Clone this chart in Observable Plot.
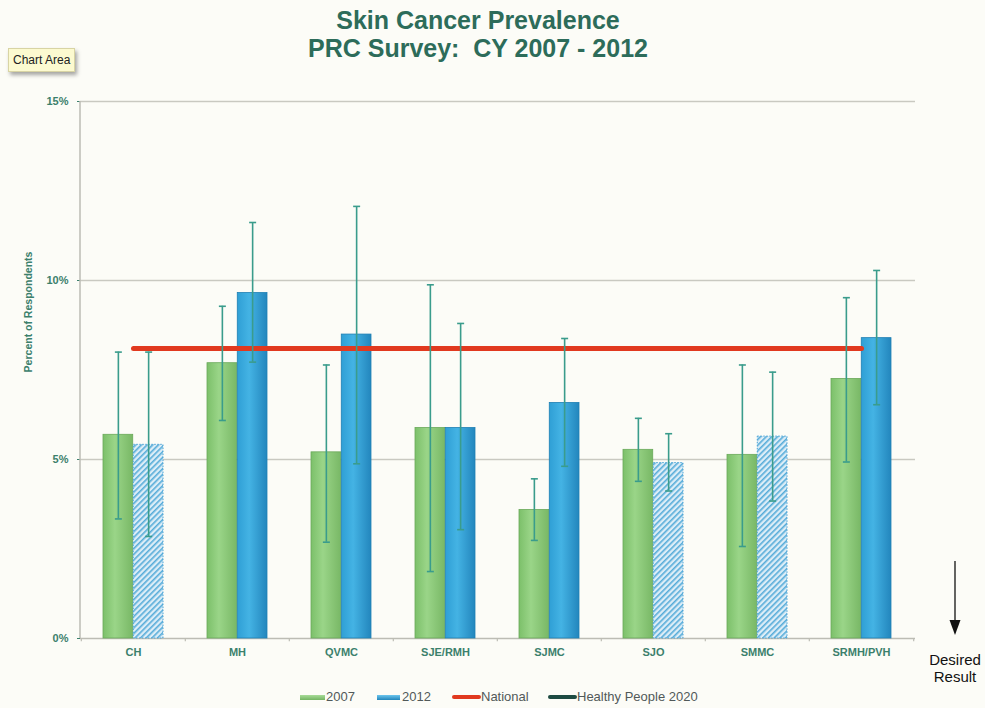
<!DOCTYPE html>
<html>
<head>
<meta charset="utf-8">
<script src="https://cdn.jsdelivr.net/npm/d3@7"></script>
<script src="https://cdn.jsdelivr.net/npm/@observablehq/plot@0.6"></script>
<style>
  body { margin: 0; background: #fcfcf7; font-family: "Liberation Sans", Arial, sans-serif; }
  #wrap { position: relative; width: 985px; height: 708px; overflow: hidden; }
  #title { height: 76px; box-sizing: border-box; padding-top: 6px; padding-right: 29px; text-align: center;
           font-weight: bold; font-size: 25px; line-height: 28px; color: #2d6c5a; }
  #chart svg { display: block; }
  #legend { position: relative; height: 32px; font-size: 13px; color: #515959; }
  #legend .sw { position: absolute; top: 19px; height: 5px; }
  #legend .ln { position: absolute; top: 19px; height: 4px; border-radius: 2px; }
  #legend .tx { position: absolute; top: 14px; line-height: 14px; }
  #tip { position: absolute; left: 8px; top: 48px; padding: 3px 4px; background: #fcfad0; border: 1px solid #d8d4a4;
         box-shadow: 2px 3px 4px rgba(0,0,0,0.35); font-size: 12px; color: #222; line-height: 16px; }
  #ylabel { position: absolute; left: 28px; top: 312px; transform: translate(-50%, -50%) rotate(-90deg);
            white-space: nowrap; font-weight: bold; font-size: 10.5px; color: #3b806c; }
  #desired { position: absolute; left: 915px; top: 651px; width: 80px; text-align: center; font-size: 15px;
             line-height: 17px; color: #111; }
  #arrow { position: absolute; left: 945px; top: 558px; }
</style>
</head>
<body>
<svg width="0" height="0" style="position:absolute">
  <defs>
    <linearGradient id="g07" x1="0" x2="1" y1="0" y2="0">
      <stop offset="0" stop-color="#7cc06a"/>
      <stop offset="0.4" stop-color="#9ad588"/>
      <stop offset="1" stop-color="#79b866"/>
    </linearGradient>
    <linearGradient id="g12" x1="0" x2="1" y1="0" y2="0">
      <stop offset="0" stop-color="#2f9fd5"/>
      <stop offset="0.4" stop-color="#44b3e4"/>
      <stop offset="1" stop-color="#2386bd"/>
    </linearGradient>
    <pattern id="hatch" patternUnits="userSpaceOnUse" width="4" height="4" patternTransform="rotate(45)">
      <rect width="4" height="4" fill="#dcedf7"/>
      <rect width="1.6" height="4" fill="#56acd9"/>
    </pattern>
  </defs>
</svg>
<div id="wrap">
  <div id="title">Skin Cancer Prevalence<br>PRC Survey:&nbsp; CY 2007 - 2012</div>
  <div id="chart"></div>
  <div id="legend"></div>
  <div id="tip">Chart Area</div>
  <div id="ylabel">Percent of Respondents</div>
  <div id="desired">Desired<br>Result</div>
  <svg id="arrow" width="20" height="80">
    <line x1="10" y1="3" x2="10" y2="64" stroke="#111" stroke-width="1.3"/>
    <polygon points="4.5,62 15.5,62 10,77" fill="#111"/>
  </svg>
</div>
<script>
// ---- data ----
const categories = ["CH", "MH", "QVMC", "SJE/RMH", "SJMC", "SJO", "SMMC", "SRMH/PVH"];
const years = ["2007", "2012"];
const values2007 = [5.69, 7.69, 5.20, 5.88, 3.59, 5.27, 5.13, 7.25];
const low2007    = [3.34, 6.09, 2.69, 1.87, 2.74, 4.39, 2.57, 4.93];
const high2007   = [8.00, 9.28, 7.64, 9.88, 4.46, 6.15, 7.64, 9.52];
const values2012 = [5.41, 9.65, 8.49, 5.88, 6.58, 4.90, 5.64, 8.39];
const low2012    = [2.85, 7.72, 4.88, 3.04, 4.81, 4.12, 3.84, 6.53];
const high2012   = [8.00, 11.62, 12.07, 8.80, 8.38, 5.72, 7.44, 10.28];
const hatched2012 = ["CH", "SJO", "SMMC"];   // 2012 bars drawn hatched
const nationalValue = 8.1;
const gridTicks = [5, 10, 15];
const legendItems = ["2007", "2012", "National", "Healthy People 2020"];

// ---- table ----
const rows07 = categories.map((c, i) => ({cat: c, year: years[0], v: values2007[i], lo: low2007[i], hi: high2007[i]}));
const rows12 = categories.map((c, i) => ({cat: c, year: years[1], v: values2012[i], lo: low2012[i], hi: high2012[i], hatch: hatched2012.includes(c)}));
const rows12solid = rows12.filter(d => !d.hatch);
const rows12hatch = rows12.filter(d => d.hatch);

// ---- layout ----
const W = 985, H = 600, mL = 80, mR = 70, mT = 25, mB = 38;
const pInner = 0.42, pOuter = 0.21;
const step = (W - mL - mR) / (categories.length - pInner + 2 * pOuter);
const bw = step * (1 - pInner);
const half = bw / 2;
const errColor = "#3a9c8c";
const axisGray = "#bcbcb4";

const cap = {draw(ctx, size) { const w = Math.sqrt(size / Math.PI); ctx.moveTo(-w, 0); ctx.lineTo(w, 0); }};

const leftAxisLine = (index, scales, values, dims) => {
  const l = document.createElementNS("http://www.w3.org/2000/svg", "line");
  l.setAttribute("x1", dims.marginLeft); l.setAttribute("x2", dims.marginLeft);
  l.setAttribute("y1", scales.y(0)); l.setAttribute("y2", scales.y(15));
  l.setAttribute("stroke", axisGray); l.setAttribute("stroke-width", 1.5);
  return l;
};

const chart = Plot.plot({
  width: W, height: H,
  marginLeft: mL, marginRight: mR, marginTop: mT, marginBottom: mB,
  style: {background: "transparent", fontFamily: "'Liberation Sans', Arial, sans-serif", fontSize: "11px", fontWeight: "bold", color: "#3b806c"},
  x: {domain: categories, paddingInner: pInner, paddingOuter: pOuter, align: 0.5, tickSize: 0, tickPadding: 10, label: null},
  y: {domain: [0, 15], ticks: 3, tickSize: 3, tickPadding: 9, tickFormat: d => d + "%", label: null},
  marks: [
    Plot.ruleY(gridTicks, {stroke: "#c9c9c1", strokeWidth: 1.5}),
    Plot.ruleY([0], {stroke: axisGray, strokeWidth: 1.5}),
    leftAxisLine,
    Plot.ruleX(categories, {y1: 0, y2: -0.09, dx: -step / 2, stroke: axisGray, strokeWidth: 1.2}),
    Plot.ruleX(categories.slice(-1), {y1: 0, y2: -0.09, dx: step / 2, stroke: axisGray, strokeWidth: 1.2}),
    Plot.barY(rows07, {x: "cat", y: "v", insetRight: half, fill: "url(#g07)", stroke: "#6aa95a", strokeWidth: 0.8}),
    Plot.barY(rows12solid, {x: "cat", y: "v", insetLeft: half, fill: "url(#g12)", stroke: "#1f7fb3", strokeWidth: 0.8}),
    Plot.barY(rows12hatch, {x: "cat", y: "v", insetLeft: half, fill: "url(#hatch)", stroke: "#4aa3d6", strokeWidth: 1, strokeDasharray: "1.5,1.5"}),
    Plot.lineY(categories, {x: d => d, y: () => nationalValue, stroke: "#e1391f", strokeWidth: 5}),
    Plot.ruleX(rows07, {x: "cat", y1: "lo", y2: "hi", dx: -half / 2, stroke: errColor, strokeWidth: 1.6}),
    Plot.ruleX(rows12, {x: "cat", y1: "lo", y2: "hi", dx: half / 2, stroke: errColor, strokeWidth: 1.6}),
    Plot.dot(rows07, {x: "cat", y: "lo", dx: -half / 2, symbol: cap, r: 3.5, fill: "none", stroke: errColor, strokeWidth: 1.6}),
    Plot.dot(rows07, {x: "cat", y: "hi", dx: -half / 2, symbol: cap, r: 3.5, fill: "none", stroke: errColor, strokeWidth: 1.6}),
    Plot.dot(rows12, {x: "cat", y: "lo", dx: half / 2, symbol: cap, r: 3.5, fill: "none", stroke: errColor, strokeWidth: 1.6}),
    Plot.dot(rows12, {x: "cat", y: "hi", dx: half / 2, symbol: cap, r: 3.5, fill: "none", stroke: errColor, strokeWidth: 1.6})
  ]
});
document.getElementById("chart").appendChild(chart);

// ---- legend ----
const legend = document.getElementById("legend");
const legendSpec = [
  {cls: "sw", left: 300, width: 25, bg: "linear-gradient(#a8dc98, #74b463)", textLeft: 326},
  {cls: "sw", left: 377, width: 23, bg: "linear-gradient(#6cc6ee, #2385bb)", textLeft: 402},
  {cls: "ln", left: 452, width: 29, bg: "#e1391f", textLeft: 481},
  {cls: "ln", left: 548, width: 29, bg: "#1d4b42", textLeft: 577}
];
legendItems.forEach((label, i) => {
  const s = legendSpec[i];
  const sw = document.createElement("div");
  sw.className = s.cls; sw.style.left = s.left + "px"; sw.style.width = s.width + "px"; sw.style.background = s.bg;
  legend.appendChild(sw);
  const tx = document.createElement("div");
  tx.className = "tx"; tx.style.left = s.textLeft + "px"; tx.textContent = label;
  legend.appendChild(tx);
});
</script>
</body>
</html>
